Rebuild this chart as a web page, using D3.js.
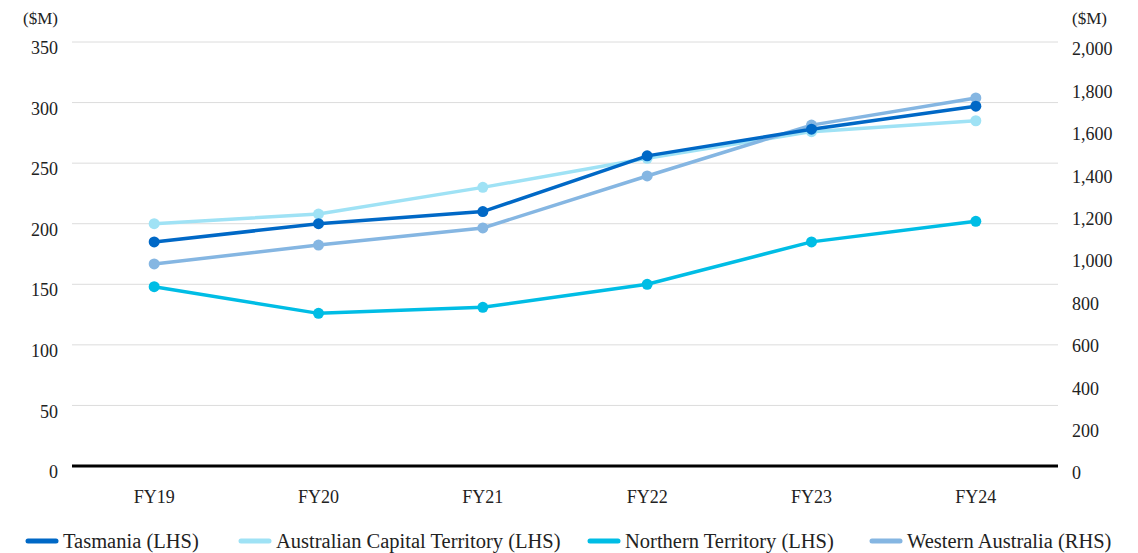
<!DOCTYPE html>
<html><head><meta charset="utf-8">
<script src="https://cdn.jsdelivr.net/npm/d3@7"></script>
<style>body{margin:0;background:#fff;} svg{display:block;}</style>
</head><body>
<svg id="c" width="1138" height="553" font-family="Liberation Serif"></svg>
<script>
const categories = ["FY19","FY20","FY21","FY22","FY23","FY24"];
const tasmania = [185,200,210,256,278,297];
const act = [200,208,230,254,276,285];
const nt = [148,126,131,150,185,202];
const wa = [953,1042,1123,1368,1608,1736];
const leftTicks = [0,50,100,150,200,250,300,350];
const rightTicks = [0,200,400,600,800,1000,1200,1400,1600,1800,2000];
const seriesNames = ["Tasmania (LHS)","Australian Capital Territory (LHS)","Northern Territory (LHS)","Western Australia (RHS)"];
const colors = ["#0068c6","#9fe2f5","#00bde5","#85b6e2"];

const FONT = "Liberation Serif";
const TXT = "#222";
const svg = d3.select("#c");
const L = 72, R = 1058, T = 42, B = 466;
const x = d3.scaleBand().domain(categories).range([L,R]);
const yl = d3.scaleLinear().domain([0,350]).range([B,T]);
const yr = d3.scaleLinear().domain([0,2000]).range([B,T]);

// gridlines
svg.append("g").selectAll("line").data(leftTicks.filter(d=>d>0)).join("line")
  .attr("x1",L).attr("x2",R).attr("y1",d=>yl(d)).attr("y2",d=>yl(d))
  .attr("stroke","#dcdcdc").attr("stroke-width",1);

// left axis
const la = svg.append("g").attr("transform",`translate(${L},0)`)
  .call(d3.axisLeft(yl).tickValues(leftTicks).tickSize(0).tickPadding(14));
la.attr("font-family",FONT).attr("font-size",18);
la.select(".domain").remove();
la.selectAll("text").attr("dy","0.65em").attr("fill",TXT);

// right axis
const ra = svg.append("g").attr("transform",`translate(${R},0)`)
  .call(d3.axisRight(yr).tickValues(rightTicks).tickSize(0).tickPadding(14).tickFormat(d3.format(",")));
ra.attr("font-family",FONT).attr("font-size",18);
ra.select(".domain").remove();
ra.selectAll("text").attr("dy","0.72em").attr("fill",TXT);

svg.append("text").attr("x",58).attr("y",24).attr("text-anchor","end").attr("font-size",17).attr("font-family",FONT).attr("fill",TXT).text("($M)");
svg.append("text").attr("x",1072).attr("y",24).attr("text-anchor","start").attr("font-size",17).attr("font-family",FONT).attr("fill",TXT).text("($M)");

// baseline
svg.append("line").attr("x1",L).attr("x2",R).attr("y1",B).attr("y2",B).attr("stroke","#000").attr("stroke-width",3);

// x axis
const xa = svg.append("g").attr("transform",`translate(0,${B})`)
  .call(d3.axisBottom(x).tickSize(0).tickPadding(24));
xa.attr("font-family",FONT).attr("font-size",18);
xa.select(".domain").remove();
xa.selectAll("text").attr("fill",TXT);

const series = [
  {vals:tasmania, y:yl, c:colors[0]},
  {vals:act, y:yl, c:colors[1]},
  {vals:nt, y:yl, c:colors[2]},
  {vals:wa, y:yr, c:colors[3]}
];
const drawOrder = [1,2,3,0];
drawOrder.forEach(i=>{
  const s = series[i];
  const line = d3.line().x((d,j)=>x(categories[j])+x.bandwidth()/2).y(d=>s.y(d));
  svg.append("path").datum(s.vals).attr("d",line).attr("fill","none").attr("stroke",s.c).attr("stroke-width",3.5);
  svg.append("g").selectAll("circle").data(s.vals).join("circle")
    .attr("cx",(d,j)=>x(categories[j])+x.bandwidth()/2).attr("cy",d=>s.y(d)).attr("r",5.5).attr("fill",s.c);
});

// legend
const legX = [28,241,590,872];
const lg = svg.append("g").attr("font-family",FONT).attr("font-size",20.5);
seriesNames.forEach((n,i)=>{
  lg.append("line").attr("x1",legX[i]).attr("x2",legX[i]+28).attr("y1",541).attr("y2",541)
    .attr("stroke",colors[i]).attr("stroke-width",5).attr("stroke-linecap","round");
  lg.append("text").attr("x",legX[i]+35).attr("y",548).attr("fill",TXT).text(n);
});
</script>
</body></html>
